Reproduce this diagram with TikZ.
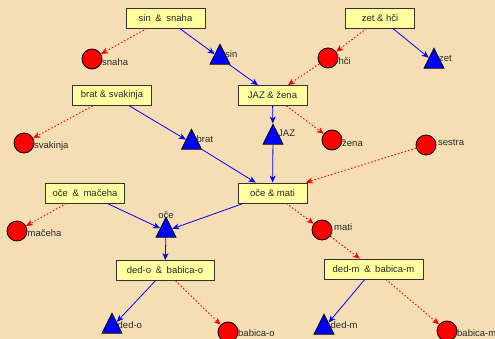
\documentclass[tikz,border=0pt]{standalone}
\usepackage{fontspec}
\setmainfont{Liberation Sans}
\usetikzlibrary{shapes.geometric,arrows.meta}
\definecolor{bg}{RGB}{245,222,179}
\definecolor{boxfill}{RGB}{255,255,160}
\definecolor{txt}{RGB}{40,40,40}
\newcommand{\wamp}{\hspace{2pt}\&\hspace{2pt}}
\begin{document}
\begin{tikzpicture}[x=1pt,y=-1pt,
 font=\fontsize{9.5}{11}\selectfont,
 pair/.style={draw=black!80, fill=boxfill, line width=0.8pt, minimum height=20pt, inner sep=0pt, text=txt},
 male/.style={isosceles triangle, isosceles triangle stretches, shape border rotate=90, minimum width=20pt, minimum height=20pt, inner sep=0pt, fill=blue, draw=black, line width=0.8pt},
 female/.style={circle, minimum size=20pt, inner sep=0pt, fill=red, draw=black, line width=0.8pt},
 lab/.style={anchor=west, inner sep=0pt, text=txt},
 ml/.style={blue, line width=0.8pt, -{Stealth[length=7pt,width=6pt,inset=2pt]}},
 fl/.style={red, line width=0.9pt, dash pattern=on 1.5pt off 2pt, -{Stealth[length=7pt,width=6pt,inset=2pt]}},
]
\useasboundingbox (0,0) rectangle (495,339);
\fill[bg] (0,0) rectangle (495,339);
% couples
\node[pair, minimum width=79pt] (ss) at (165.5,18) {sin \wamp{} snaha};
\node[pair, minimum width=69pt] (zh) at (380,18) {zet \& hči};
\node[pair, minimum width=79pt] (bs) at (112,95.5) {brat \& svakinja};
\node[pair, minimum width=69pt] (jz) at (272.5,95.5) {JAZ \& žena};
\node[pair, minimum width=79pt] (om) at (85,193) {oče \wamp{} mačeha};
\node[pair, minimum width=69pt] (oma) at (272.5,193) {oče \& mati};
\node[pair, minimum width=98pt] (dbo) at (165,270.5) {ded-o \wamp{} babica-o};
\node[pair, minimum width=99pt] (dbm) at (373.5,269) {ded-m \wamp{} babica-m};
% males
\node[male] (sin) at (220,58) {};
\node[male] (brat) at (191.5,143) {};
\node[male] (zet) at (434,62) {};
\node[male] (jaz) at (273,138) {};
\node[male] (oce) at (166,231) {};
\node[male] (dedo) at (112,327) {};
\node[male] (dedm) at (324,328) {};
% females
\node[female] (snaha) at (92,59) {};
\node[female] (svakinja) at (24,143) {};
\node[female] (hci) at (328,58) {};
\node[female] (zena) at (332,140) {};
\node[female] (sestra) at (426,145) {};
\node[female] (maceha) at (17,231) {};
\node[female] (mati) at (322,230) {};
\node[female] (babo) at (228,332) {};
\node[female] (babm) at (447,331) {};
% labels
\node[lab] (lsin) at (225,54) {sin};
\node[lab] (lbrat) at (196.5,139) {brat};
\node[lab] (lzet) at (439,58) {zet};
\node[lab] (ljaz) at (278,133) {JAZ};
\node[lab] (ldedo) at (117.5,325) {ded-o};
\node[lab] (ldedm) at (330.5,325) {ded-m};
\node[inner sep=0pt, text=txt] (loce) at (166,215.5) {oče};
\node[lab] (lsnaha) at (102,62) {snaha};
\node[lab] (lsvakinja) at (34,146) {svakinja};
\node[lab] (lhci) at (338.5,61) {hči};
\node[lab] (lzena) at (342,143) {žena};
\node[lab] (lsestra) at (438,142) {sestra};
\node[lab] (lmaceha) at (27.5,233) {mačeha};
\node[lab] (lmati) at (334,227) {mati};
\node[lab] (lbabo) at (238,333) {babica-o};
\node[lab] (lbabm) at (457,333) {babica-m};
% edges
\draw[ml] (ss) -- (sin);
\draw[fl] (ss) -- (snaha);
\draw[ml] (sin) -- (jz);
\draw[ml] (zh) -- (zet);
\draw[fl] (zh) -- (hci);
\draw[fl] (hci) -- (jz);
\draw[ml] (bs) -- (brat);
\draw[fl] (bs) -- (svakinja);
\draw[ml] (brat) -- (oma);
\draw[ml] (jz) -- (jaz);
\draw[fl] (jz) -- (zena);
\draw[ml] (jaz) -- (oma);
\draw[fl] (sestra) -- (oma);
\draw[ml] (oma) -- (oce);
\draw[fl] (oma) -- (mati);
\draw[ml] (om) -- (oce);
\draw[fl] (om) -- (maceha);
\draw[ml] (oce) -- (dbo);
\draw[fl] (mati) -- (dbm);
\draw[ml] (dbo) -- (dedo);
\draw[fl] (dbo) -- (babo);
\draw[ml] (dbm) -- (dedm);
\draw[fl] (dbm) -- (babm);
\end{tikzpicture}
\end{document}
